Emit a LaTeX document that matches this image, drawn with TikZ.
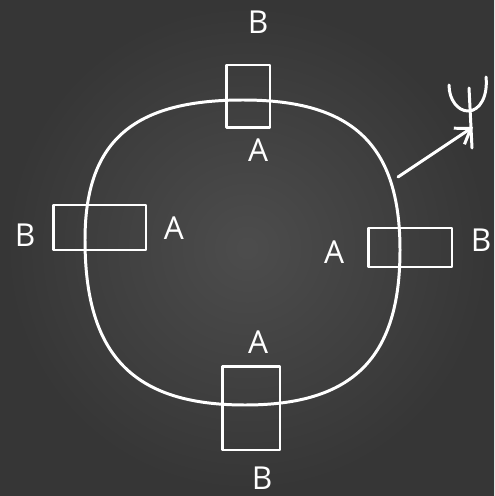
\documentclass[tikz,border=0pt]{standalone}
\usepackage{fontspec}
\setsansfont{Open Sans}
\usetikzlibrary{arrows.meta, positioning, calc}

\begin{document}
\begin{tikzpicture}[
  x=0.02cm, y=-0.02cm,
  >={Straight Barb[length=8pt,width=11pt]},
  font=\sffamily\fontsize{18}{20}\selectfont,
  % Node styles
  chalk/.style={draw=white, line width=1.7pt, line cap=round, line join=round},
  coil/.style={chalk, inner sep=0pt, minimum width=#1},
  lbl/.style={text=white, inner sep=0pt},
  % Edge styles
  loopline/.style={chalk},
  signal/.style={chalk, ->}
]

% ------------------------------------------------------------
% Board background
% ------------------------------------------------------------
\shade[inner color=black!70, outer color=black!79] (0,0) rectangle (494,496);
\useasboundingbox (0,0) rectangle (494,496);

% ------------------------------------------------------------
% The loop
% ------------------------------------------------------------
\draw[loopline] (85,240) .. controls (85,142) and (132,100) .. (243,100)
  .. controls (353,100) and (400,145) .. (400,250)
  .. controls (400,358) and (353,405) .. (245,405)
  .. controls (133,405) and (85,355) .. cycle;

% ------------------------------------------------------------
% Boxes crossing the loop
% ------------------------------------------------------------
\node[coil=0.88cm, minimum height=1.26cm] (top)    at (248,96.5)  {};
\node[coil=1.86cm, minimum height=0.90cm] (left)   at (99.5,227.5) {};
\node[coil=1.68cm, minimum height=0.78cm] (right)  at (410,247.5) {};
\node[coil=1.16cm, minimum height=1.68cm] (bottom) at (251,408)   {};

% Labels
\node[lbl] (topB)    at (258,22)  {B};
\node[lbl] (topA)    at (258,150) {A};
\node[lbl] (leftB)   at (25,235)  {B};
\node[lbl] (leftA)   at (174,228) {A};
\node[lbl] (rightA)  at (334,252) {A};
\node[lbl] (rightB)  at (481,240) {B};
\node[lbl] (bottomA) at (258,342) {A};
\node[lbl] (bottomB) at (262,478) {B};

% ------------------------------------------------------------
% Antenna
% ------------------------------------------------------------
\coordinate (tx)  at (398,177);
\coordinate (ant) at (473,127);
\draw[signal] (tx) -- (ant);

\draw[chalk] (469,88) -- (472,148);
\draw[chalk] (449,85) .. controls (449,100) and (458,111) .. (468,111)
  .. controls (480,111) and (488,96) .. (486,77);

\end{tikzpicture}
\end{document}
